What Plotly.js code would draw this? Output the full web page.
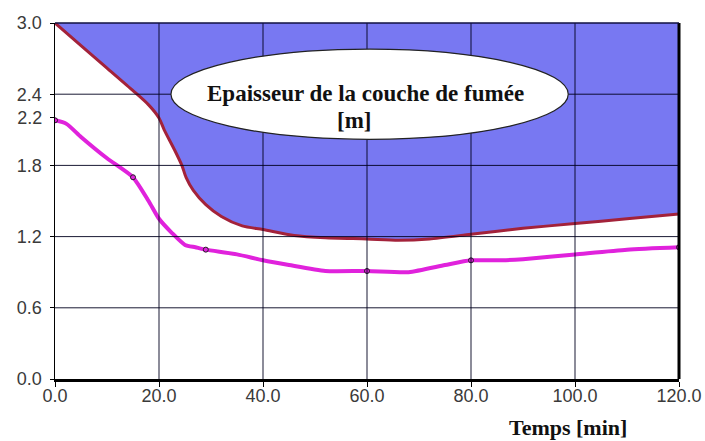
<!DOCTYPE html>
<html>
<head>
<meta charset="utf-8">
<script src="https://cdn.plot.ly/plotly-3.0.1.min.js"></script>
<style>html,body{margin:0;padding:0;background:#fff;}#chart{width:705px;height:441px;}</style>
</head>
<body>
<div id="chart"></div>
<script>
// Interface of the smoke layer (lower boundary of the smoke), m
const timeUpper = [0, 5, 10, 15, 18, 20, 21, 23, 24.4, 25.2, 26.6, 29, 32, 36, 40, 46, 52, 60, 66, 72, 80, 90, 100, 110, 120];
const heightUpper = [3.0, 2.81, 2.62, 2.43, 2.31, 2.2, 2.1, 1.93, 1.80, 1.70, 1.59, 1.47, 1.37, 1.29, 1.26, 1.21, 1.19, 1.18, 1.17, 1.18, 1.22, 1.27, 1.31, 1.35, 1.39];
// Ceiling height (top of the smoke layer)
const ceilingHeight = 3.0;
// Magenta curve
const timeLower = [0, 2.2, 5, 10, 15, 18, 20, 22.5, 25, 27, 29, 35, 40, 45, 52, 60, 68, 75, 80, 86, 90, 100, 110, 120];
const heightLower = [2.18, 2.15, 2.04, 1.86, 1.70, 1.50, 1.35, 1.23, 1.13, 1.11, 1.09, 1.05, 1.0, 0.96, 0.91, 0.91, 0.90, 0.96, 1.0, 1.0, 1.01, 1.05, 1.09, 1.11];
// Marked points of the magenta curve
const timeMarks = [0, 15, 29, 60, 80, 120];
const heightMarks = [2.18, 1.70, 1.09, 0.91, 1.0, 1.11];
// Ticks
const xTicks = [0, 20, 40, 60, 80, 100, 120];
const yTicks = [0, 0.6, 1.2, 1.8, 2.4, 3.0];
const yExtraTick = [2.2];
const labelLine1 = 'Epaisseur de la couche de fumée';
const labelLine2 = '[m]';
const xTitle = 'Temps [min]';

const tickFont = {family: 'Liberation Sans, Arial, sans-serif', size: 18, color: '#3a3a3a'};
const serifBold = {family: 'Liberation Serif, Times New Roman, serif', size: 23, color: '#111', weight: 'bold'};

const traces = [
  {x: timeUpper, y: timeUpper.map(() => ceilingHeight), type: 'scatter', mode: 'lines',
   line: {width: 0, color: 'rgba(0,0,0,0)'}, hoverinfo: 'skip', showlegend: false},
  {x: timeUpper, y: heightUpper, type: 'scatter', mode: 'lines', fill: 'tonexty',
   fillcolor: '#7878f2', line: {width: 0, color: 'rgba(0,0,0,0)'}, showlegend: false},
  {x: timeUpper, y: heightUpper, type: 'scatter', mode: 'lines',
   line: {width: 3, color: '#a3223a', shape: 'spline', smoothing: 0.7}, showlegend: false},
  {x: timeLower, y: heightLower, type: 'scatter', mode: 'lines',
   line: {width: 4, color: '#e022dc', shape: 'spline', smoothing: 0.6}, showlegend: false},
  {x: timeMarks, y: heightMarks, type: 'scatter', mode: 'markers',
   marker: {size: 5, color: '#e022dc', line: {width: 1, color: '#222'}}, showlegend: false},
  {x: [0], y: yExtraTick, yaxis: 'y2', type: 'scatter', mode: 'markers',
   marker: {size: 1, opacity: 0}, hoverinfo: 'skip', showlegend: false}
];

// grid lines drawn above the blue fill, positioned from the tick arrays
const gridShapes = [];
xTicks.slice(1, -1).forEach(v => gridShapes.push({type: 'line', xref: 'x', yref: 'paper', x0: v, x1: v, y0: 0, y1: 1,
  line: {color: 'rgba(0,0,30,0.9)', width: 1}, layer: 'above'}));
yTicks.slice(1, -1).forEach(v => gridShapes.push({type: 'line', xref: 'paper', yref: 'y', x0: 0, x1: 1, y0: v, y1: v,
  line: {color: 'rgba(0,0,30,0.9)', width: 1}, layer: 'above'}));

const layout = {
  width: 705, height: 441,
  margin: {l: 55, r: 26, t: 23, b: 62},
  paper_bgcolor: '#fff', plot_bgcolor: '#fff',
  showlegend: false,
  xaxis: {
    range: [0, 120], tickvals: xTicks, tickformat: '.1f', tickfont: tickFont,
    showgrid: false, zeroline: false,
    showline: true, linecolor: '#000', linewidth: 3,
    ticks: 'outside', ticklen: 5, tickcolor: '#000', tickwidth: 1, ticklabelstandoff: -7
  },
  yaxis: {
    range: [0, 3.0], tickvals: yTicks, tickformat: '.1f', tickfont: tickFont,
    showgrid: false, zeroline: false,
    showline: true, linecolor: '#000', linewidth: 1.5,
    ticks: 'outside', ticklen: 4, tickcolor: '#000', tickwidth: 1, ticklabelstandoff: 4
  },
  yaxis2: {
    range: [0, 3.0], overlaying: 'y', side: 'left', tickvals: yExtraTick, tickformat: '.1f',
    tickfont: tickFont, showgrid: false, zeroline: false, showline: false,
    ticks: 'outside', ticklen: 4, tickcolor: '#000', tickwidth: 1, ticklabelstandoff: 4
  },
  shapes: gridShapes.concat([
    {type: 'line', xref: 'paper', yref: 'paper', x0: 1, x1: 1, y0: 0, y1: 1,
     line: {color: '#000', width: 3}, layer: 'above'},
    {type: 'line', xref: 'paper', yref: 'paper', x0: 0, x1: 1, y0: 1, y1: 1,
     line: {color: '#101040', width: 1.5}, layer: 'above'},
    {type: 'circle', xref: 'x', yref: 'y', x0: 22.3, x1: 98.7, y0: 2.02, y1: 2.78,
     fillcolor: '#fff', line: {color: '#222', width: 1.2}, layer: 'above'}
  ]),
  annotations: [
    {x: 59.8, y: 2.41, xref: 'x', yref: 'y', text: labelLine1, showarrow: false,
     font: serifBold, xanchor: 'center', yanchor: 'middle'},
    {x: 57.5, y: 2.18, xref: 'x', yref: 'y', text: labelLine2, showarrow: false,
     font: serifBold, xanchor: 'center', yanchor: 'middle'},
    {x: 0.822, y: -0.135, xref: 'paper', yref: 'paper', text: xTitle, showarrow: false,
     font: {family: 'Liberation Serif, Times New Roman, serif', size: 22, color: '#111', weight: 'bold'},
     xanchor: 'center', yanchor: 'middle'}
  ]
};

Plotly.newPlot('chart', traces, layout, {displayModeBar: false, staticPlot: true});
</script>
</body>
</html>
